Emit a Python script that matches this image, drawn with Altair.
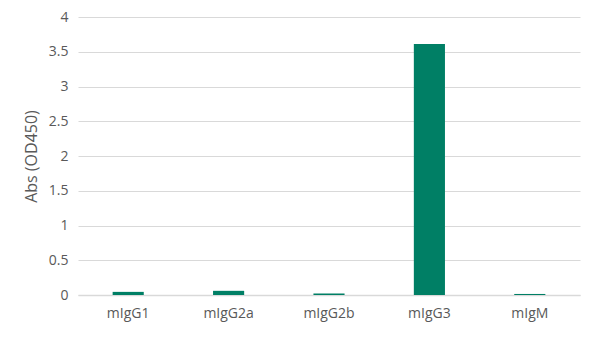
import altair as alt
import pandas as pd

categories = ["mIgG1", "mIgG2a", "mIgG2b", "mIgG3", "mIgM"]
values = [0.045, 0.06, 0.02, 3.61, 0.015]
y_ticks = [0, 0.5, 1, 1.5, 2, 2.5, 3, 3.5, 4]

df = pd.DataFrame({"cat": categories, "val": values})

FONT = "Open Sans"
GRAY = "#595959"

chart = alt.Chart(df).mark_bar(color="#007f65").encode(
    x=alt.X("cat:N", sort=categories, title=None,
            scale=alt.Scale(paddingInner=0.69, paddingOuter=0.345),
            axis=alt.Axis(labelAngle=0, labelFont=FONT, labelFontSize=14,
                          labelColor=GRAY, ticks=False, labelPadding=11,
                          grid=False,
                          domainColor="#d9d9d9", domainWidth=1.5)),
    y=alt.Y("val:Q", title="Abs (OD450)",
            scale=alt.Scale(domain=[0, 4], nice=False),
            axis=alt.Axis(values=y_ticks, format="~g", labelFont=FONT,
                          labelFontSize=14,
                          labelColor=GRAY, ticks=False, domain=False,
                          labelPadding=10, gridColor="#d9d9d9",
                          titleFont=FONT, titleFontSize=16, titleColor=GRAY,
                          titleFontWeight="normal",
                          titleX=-47, titleY=139, titleAlign="center",
                          titleBaseline="middle", titleAngle=-90)),
).properties(
    width=502, height=278,
    autosize=alt.AutoSizeParams(type="none"),
    padding={"left": 78, "top": 17, "right": 20, "bottom": 46},
    background="white",
).configure_view(stroke=None, strokeWidth=0)

chart.save("out.html", embed_options={"renderer": "svg", "actions": False})
